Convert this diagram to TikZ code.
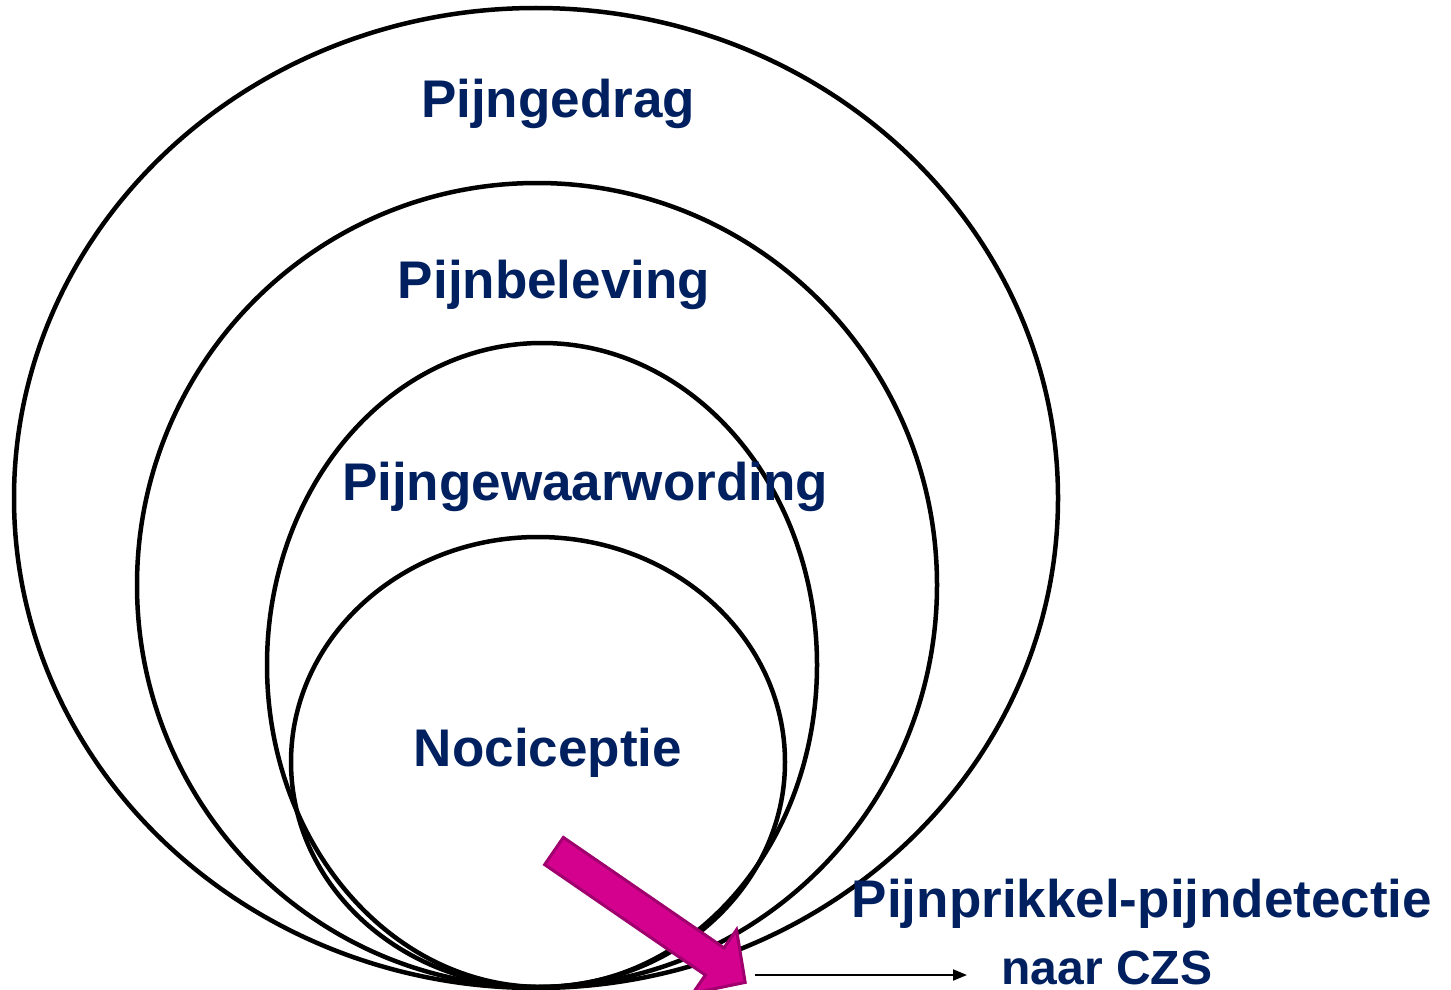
\documentclass[tikz,border=0pt]{standalone}
\usepackage{fontspec}
\setmainfont{Liberation Sans}
\usetikzlibrary{arrows.meta,calc}
\definecolor{labelblue}{RGB}{0,32,96}
\definecolor{arrowfill}{RGB}{212,0,142}
\definecolor{arrowedge}{RGB}{160,0,110}
\tikzset{
  ring/.style={draw=black,line width=4.5pt},
  layerlabel/.style={text=labelblue,font=\fontsize{53}{60}\selectfont\bfseries,anchor=base,inner sep=0pt},
}
\begin{document}
\begin{tikzpicture}[x=1pt,y=-1pt]
\useasboundingbox (0,0) rectangle (1451,990);
% nested layers, all touching at the bottom
\draw[ring] (536,498) ellipse [x radius=522,y radius=490];
\draw[ring] (537,585) ellipse [x radius=400,y radius=402];
\draw[ring] (542,665) ellipse [x radius=275,y radius=322];
\draw[ring] (538,762) ellipse [x radius=247,y radius=225];

\node[layerlabel] (gedrag) at (558,117) {Pijngedrag};
\node[layerlabel] (beleving) at (554,298) {Pijnbeleving};
\node[layerlabel] (gewaar) at (585,500) {Pijngewaarwording};
\node[layerlabel] (noci) at (548,766) {Nociceptie};

% block arrow leaving the innermost layer
\begin{scope}[shift={(554,851)},rotate=-34.5]
\draw[fill=arrowfill,draw=arrowedge,line width=3pt,line join=miter]
  (0,-16.5) -- (195,-16.5) -- (195,-38.5) -- (232,0) -- (195,38.5) -- (195,16.5) -- (0,16.5) -- cycle;
\end{scope}

\node[layerlabel] (detect) at (1142,917) {Pijnprikkel-pijndetectie};
\node[layerlabel,font=\fontsize{48}{56}\selectfont\bfseries] (czs) at (1107,984) {naar CZS};
\coordinate (from) at (755,975);
\coordinate (to) at (967,975);
\draw[line width=2pt,-{Triangle[length=14pt,width=11pt]}] (from) -- (to);
\end{tikzpicture}
\end{document}
